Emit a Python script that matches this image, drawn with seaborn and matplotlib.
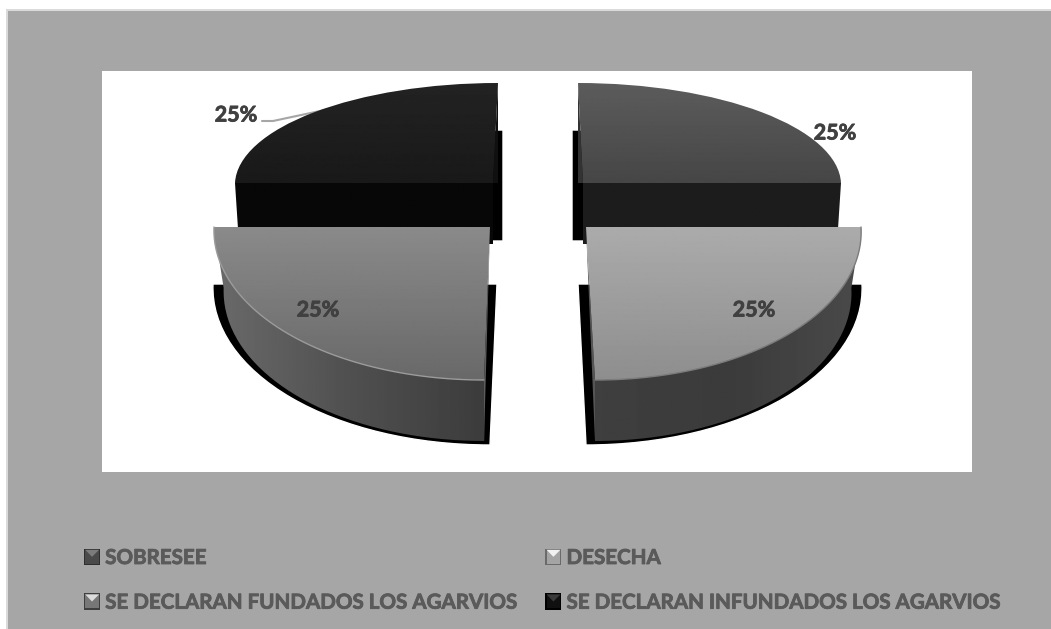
import numpy as np
import matplotlib
matplotlib.use("Agg")
import matplotlib.pyplot as plt
import matplotlib.patheffects as pe
import seaborn as sns
from matplotlib.legend_handler import HandlerPatch
from matplotlib.patches import Patch, Polygon, Rectangle
from matplotlib.path import Path
from matplotlib.transforms import Affine2D

categories = ["SOBRESEE", "DESECHA", "SE DECLARAN FUNDADOS LOS AGARVIOS", "SE DECLARAN INFUNDADOS LOS AGARVIOS"]
values = [25, 25, 25, 25]

# look of the fake 3d pie, pixel layout of the 1051x629 picture
apex = [(583, 183), (586, 227), (490, 227), (493, 183)]
radius = [(258, 100), (275, 153), (276, 153), (258, 100)]
skew = [-5, -9, 6, 5]
shadow_apex = [(572, 241), (578, 284), (497, 284), (503, 241)]
shadow_radius = [(265, 111), (284, 161), (284, 161), (265, 111)]
shadow_skew = [0, -8, 7, 0]
top_shades = [(0x5c, 0x46), (0xab, 0x8e), (0x8a, 0x69), (0x23, 0x19)]
rim = [None, "#7c7c7c", "#9c9c9c", None]
side_shades = [(0x1c, 0x1c), (0x3f, 0x3b, 0x4a), (0x6a, 0x50, 0x3c), (0x07, 0x07)]
inner_shade = ["#333333", "#555555", "#5c5c5c", "#101010"]
label_pos = [(835, 133), (754, 310), (318, 310), (236, 115)]
depth = 61
low_shrink = 0.965
label_size = 15.5
legend_size = 14.8
text_grey = "#404040"
legend_grey = "#5a5a5a"
legend_look = [("#2e2e2e", "#4a4a4a", "#7c7c7c"), ("#6a6a6a", "#a4a4a4", "#f2f2f2"),
               ("#3e3e3e", "#777777", "#dcdcdc"), ("#000000", "#101010", "#3a3a3a")]

sns.set_theme(style="white")
plt.rcParams["font.family"] = ["Lato", "DejaVu Sans"]

fig = plt.figure(figsize=(10.51, 6.29), dpi=100, facecolor="white")
ax = fig.add_axes([0, 0, 1, 1])


def shade(x0, x1, y0, y1, stops, clip, z, vertical=False, clip_tf=None):
    pos = np.linspace(0, 1, 128)
    ramp = np.interp(pos, np.linspace(0, 1, len(stops)), stops) / 255
    grid = ramp[:, None] if vertical else ramp[None, :]
    im = ax.imshow(grid, extent=[x0, x1, y1, y0], cmap="gray", vmin=0, vmax=1,
                   aspect="auto", interpolation="bilinear", zorder=z)
    if clip_tf is None:
        im.set_clip_path(clip)
    else:
        im.set_clip_path(clip, clip_tf)


def slice_tf(a, r, s):
    return Affine2D.from_values(r[0], 0, s, -r[1], a[0], a[1])


shadows, _ = ax.pie(values, startangle=90, counterclock=False, colors=["black"] * 4)
tops, _, pct = ax.pie(values, startangle=90, counterclock=False, autopct="%.0f%%",
                      wedgeprops={"linewidth": 0})

for i in range(len(values)):
    back = i in (0, 3)
    base = 0 if back else 4
    a, r, s = apex[i], radius[i], skew[i]
    tf = slice_tf(a, r, s)

    shadows[i].set_transform(slice_tf(shadow_apex[i], shadow_radius[i], shadow_skew[i]) + ax.transData)
    shadows[i].set_zorder(base + 1)

    th = np.radians(np.linspace(tops[i].theta1, tops[i].theta2, 80))
    arc = tf.transform(np.column_stack([np.cos(th), np.sin(th)]))

    # side of the slice
    if back:
        sign = 1 if i == 0 else -1
        outer = a[0] + sign * r[0]
        pts = [(a[0], a[1]), (outer, a[1]), (outer - sign * 4, a[1] + depth), (a[0] - sign * 3, a[1] + depth)]
        path = Path(pts + [pts[0]])
        x0, x1 = min(outer, a[0]), max(outer, a[0])
    else:
        low = arc + [0, depth]
        low[:, 0] = a[0] + (low[:, 0] - a[0]) * low_shrink
        pts = np.vstack([arc, low[::-1], arc[:1]])
        path = Path(pts)
        x0, x1 = pts[:, 0].min(), pts[:, 0].max()
    shade(x0, x1, a[1] - 5, a[1] + 230, side_shades[i], path, base + 2, clip_tf=ax.transData)

    # thin inner face next to the gap
    if back:
        tip = tf.transform([(0, 1)])[0]
        tri = [tip, a, (tip[0], a[1])]
    else:
        tip = tf.transform([(0, -1)])[0]
        tri = [a, tip, (tip[0], tip[1] + depth)]
    ax.add_patch(Polygon(tri, closed=True, facecolor=inner_shade[i], edgecolor="none", zorder=base + 3))

    # top surface with its gradient, light line only along the curved edge
    w = tops[i]
    w.set_transform(tf + ax.transData)
    w.set_facecolor("none")
    w.set_zorder(base + 5)
    y_low = a[1] - r[1] if back else a[1]
    shade(a[0] - 300, a[0] + 300, y_low, y_low + r[1], top_shades[i], w, base + 4, vertical=True)
    if rim[i]:
        ax.plot(arc[:, 0], arc[:, 1], color=rim[i], lw=1, zorder=base + 5)

    pct[i].set_position(label_pos[i])
    pct[i].set(fontsize=label_size, fontweight="bold", color=text_grey, zorder=20, ha="center", va="center",
               path_effects=[pe.withStroke(linewidth=0.6, foreground=text_grey)])

ax.plot([262, 273, 334], [121, 121, 108], color="#a6a6a6", lw=1.5, zorder=2.5)

ax.add_patch(Rectangle((6, 9), 1100, 700, facecolor="#dadada", edgecolor="none", zorder=-3))
ax.add_patch(Rectangle((8, 11), 1100, 700, facecolor="#a6a6a6", edgecolor="none", zorder=-2))
ax.add_patch(Rectangle((102, 71), 870, 401, facecolor="white", edgecolor="none", zorder=-1))


class BoxHandler(HandlerPatch):
    def create_artists(self, legend, orig, xd, yd, w, h, fontsize, trans):
        frame, body, light = orig.look
        x, y = -xd, -yd + (h - w) / 2
        box = Rectangle((x, y), w, w, facecolor=frame, edgecolor="none", transform=trans)
        inner = Rectangle((x + w * .08, y + w * .08), w * .86, w * .86, facecolor=body, edgecolor="none", transform=trans)
        tri = Polygon([(x + w * .08, y + w * .94), (x + w * .94, y + w * .94), (x + w / 2, y + w / 2)],
                      closed=True, facecolor=light, edgecolor="none", transform=trans)
        return [box, inner, tri]


handles = []
for look, name in zip(legend_look, categories):
    h = Patch(label=name)
    h.look = look
    handles.append(h)
order = [0, 2, 1, 3]
leg = ax.legend([handles[i] for i in order], [categories[i] for i in order], ncol=2,
                handler_map={Patch: BoxHandler()}, loc="upper left", bbox_to_anchor=(84, 548),
                bbox_transform=ax.transData, frameon=False, borderpad=0, borderaxespad=0,
                fontsize=legend_size, handlelength=0.78, handleheight=0.78, handletextpad=0.25,
                columnspacing=1.45, labelspacing=1.2)
for t in leg.get_texts():
    t.set(fontweight="bold", color=legend_grey,
          path_effects=[pe.withStroke(linewidth=0.6, foreground=legend_grey)])
leg.set_zorder(30)

ax.set_aspect("auto")
ax.set_xlim(0, 1051)
ax.set_ylim(629, 0)
ax.set_axis_off()

plt.savefig("out.png", dpi=100, facecolor="white")
